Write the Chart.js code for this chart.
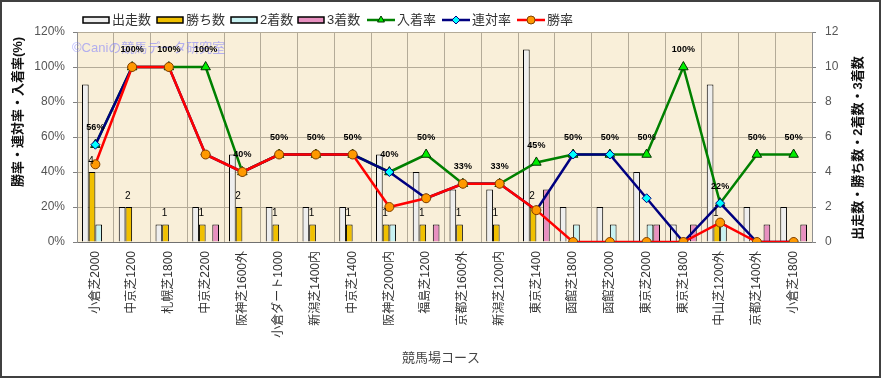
<!DOCTYPE html>
<html>
<head>
<meta charset="utf-8">
<script src="https://cdn.jsdelivr.net/npm/chart.js@4/dist/chart.umd.min.js"></script>
<style>
  html, body { margin: 0; padding: 0; background: #fff; }
  canvas { display: block; }
</style>
</head>
<body>
<canvas id="courseChart" width="881" height="378"></canvas>
<script>
// Courses (x axis)
const courses = ['小倉芝2000', '中京芝1200', '札幌芝1800', '中京芝2200', '阪神芝1600外', '小倉ダート1000',
  '新潟芝1400内', '中京芝1400', '阪神芝2000内', '福島芝1200', '京都芝1600外', '新潟芝1200内',
  '東京芝1400', '函館芝1800', '函館芝2000', '東京芝2000', '東京芝1800', '中山芝1200外', '京都芝1400外', '小倉芝1800'];

// Counts (right axis)
const starts  = [9, 2, 1, 2, 5, 2, 2, 2, 5, 4, 3, 3, 11, 2, 2, 4, 1, 9, 2, 2];
const wins    = [4, 2, 1, 1, 2, 1, 1, 1, 1, 1, 1, 1, 2, 0, 0, 0, 0, 1, 0, 0];
const seconds = [1, 0, 0, 0, 0, 0, 0, 0, 1, 0, 0, 0, 0, 1, 1, 1, 0, 1, 0, 0];
const thirds  = [0, 0, 0, 1, 0, 0, 0, 0, 0, 1, 0, 0, 3, 0, 0, 1, 1, 0, 1, 1];

// Rates in % (left axis)
const placeRate  = [55.6, 100, 100, 100, 40, 50, 50, 50, 40, 50, 33.3, 33.3, 45.45, 50, 50, 50, 100, 22.2, 50, 50];
const rentaiRate = [55.6, 100, 100, 50, 40, 50, 50, 50, 40, 25, 33.3, 33.3, 18.2, 50, 50, 25, 0, 22.2, 0, 0];
const winRate    = [44.4, 100, 100, 50, 40, 50, 50, 50, 20, 25, 33.3, 33.3, 18.2, 0, 0, 0, 0, 11.1, 0, 0];

const FONT = '"Liberation Sans", "Noto Sans CJK JP", sans-serif';
const gridColor = '#b4ab98';

// background, watermark, titles, legend, labels
const decorPlugin = {
  id: 'decor',
  beforeDraw(chart) {
    const { ctx, chartArea: a } = chart;
    ctx.save();
    ctx.fillStyle = '#ffffff';
    ctx.fillRect(0, 0, chart.width, chart.height);
    ctx.fillStyle = '#f9efd9';
    ctx.fillRect(a.left, a.top, a.right - a.left, a.bottom - a.top);
    ctx.restore();
  },
  beforeDatasetsDraw(chart) {
    const { ctx, chartArea: a } = chart;
    ctx.save();
    ctx.font = '13px ' + FONT;
    ctx.fillStyle = 'rgba(120, 120, 255, 0.55)';
    ctx.textBaseline = 'middle';
    ctx.fillText('©Caniの競馬データ研究室', a.left - 5, 48);
    ctx.restore();
  },
  afterDatasetsDraw(chart) {
    const ctx = chart.ctx;
    ctx.save();
    ctx.fillStyle = '#000';
    ctx.textAlign = 'center';
    ctx.textBaseline = 'middle';
    ctx.font = '10px ' + FONT;
    chart.getDatasetMeta(1).data.forEach((bar, i) => {
      if (wins[i] > 0) ctx.fillText(String(wins[i]), bar.x - 1, bar.y - 11);
    });
    ctx.font = 'bold 9px ' + FONT;
    chart.getDatasetMeta(4).data.forEach((pt, i) => {
      ctx.fillText(Math.round(placeRate[i]) + '%', pt.x, pt.y - 17);
    });
    ctx.restore();
  },
  afterDraw(chart) {
    const ctx = chart.ctx;
    ctx.save();

    // axis titles
    ctx.fillStyle = '#111';
    ctx.textAlign = 'center';
    ctx.textBaseline = 'middle';
    ctx.font = 'bold 13px ' + FONT;
    ctx.translate(18, 112);
    ctx.rotate(-Math.PI / 2);
    ctx.fillText('勝率・連対率・入着率(%)', 0, 0);
    ctx.setTransform(1, 0, 0, 1, 0, 0);
    ctx.translate(858, 148);
    ctx.rotate(-Math.PI / 2);
    ctx.fillText('出走数・勝ち数・2着数・3着数', 0, 0);
    ctx.setTransform(1, 0, 0, 1, 0, 0);
    ctx.font = '13px ' + FONT;
    ctx.fillStyle = '#444';
    ctx.fillText('競馬場コース', 441, 358);

    // legend
    ctx.textAlign = 'left';
    ctx.font = '13px ' + FONT;
    const ly = 20;
    const boxItems = [
      { x: 83, text: '出走数', color: '#eeeeee' },
      { x: 157, text: '勝ち数', color: '#f0c000' },
      { x: 231, text: '2着数', color: '#c8f2f2' },
      { x: 298, text: '3着数', color: '#e890c0' }
    ];
    boxItems.forEach(it => {
      ctx.fillStyle = it.color;
      ctx.fillRect(it.x, ly - 3, 26, 6);
      ctx.strokeStyle = '#000';
      ctx.lineWidth = 1.5;
      ctx.strokeRect(it.x, ly - 3, 26, 6);
      ctx.fillStyle = '#333';
      ctx.fillText(it.text, it.x + 29, ly);
    });
    const lineItems = [
      { x: 367, text: '入着率', ds: chart.data.datasets[4] },
      { x: 442, text: '連対率', ds: chart.data.datasets[5] },
      { x: 517, text: '勝率', ds: chart.data.datasets[6] }
    ];
    lineItems.forEach(it => {
      ctx.strokeStyle = it.ds.borderColor;
      ctx.lineWidth = 2.5;
      ctx.beginPath();
      ctx.moveTo(it.x, ly);
      ctx.lineTo(it.x + 28, ly);
      ctx.stroke();
      ctx.fillStyle = it.ds.pointBackgroundColor;
      ctx.strokeStyle = it.ds.pointBorderColor;
      ctx.lineWidth = 1;
      Chart.helpers.drawPoint(ctx, {
        pointStyle: it.ds.pointStyle, radius: 4, rotation: 0, borderWidth: 1
      }, it.x + 14, ly);
      ctx.fillStyle = '#333';
      ctx.fillText(it.text, it.x + 30, ly);
    });

    // outer frame
    ctx.strokeStyle = '#404040';
    ctx.lineWidth = 2;
    ctx.strokeRect(1, 1, chart.width - 2, chart.height - 2);
    ctx.restore();
  }
};

const barBase = { yAxisID: 'y1', borderColor: '#000', borderWidth: 1, barPercentage: 1, categoryPercentage: 0.727, order: 5 };
const lineBase = { type: 'line', yAxisID: 'y', borderWidth: 2.5, tension: 0, pointBorderWidth: 1 };

const ctx = document.getElementById('courseChart').getContext('2d');
new Chart(ctx, {
  type: 'bar',
  data: {
    labels: courses,
    datasets: [
      { ...barBase, label: '出走数', data: starts, backgroundColor: '#eeeeee' },
      { ...barBase, label: '勝ち数', data: wins, backgroundColor: '#f0c000' },
      { ...barBase, label: '2着数', data: seconds, backgroundColor: '#c8f2f2' },
      { ...barBase, label: '3着数', data: thirds, backgroundColor: '#e890c0' },
      { ...lineBase, label: '入着率', data: placeRate, borderColor: '#008000',
        pointStyle: 'triangle', pointRadius: 5.5, pointBackgroundColor: '#00ee00', pointBorderColor: '#003300', order: 3 },
      { ...lineBase, label: '連対率', data: rentaiRate, borderColor: '#000080',
        pointStyle: 'rectRot', pointRadius: 4.5, pointBackgroundColor: '#00ffff', pointBorderColor: '#000080', order: 2 },
      { ...lineBase, label: '勝率', data: winRate, borderColor: '#ff0000',
        pointStyle: 'circle', pointRadius: 4.5, pointBackgroundColor: '#ff9900', pointBorderColor: '#804000', order: 1 }
    ]
  },
  options: {
    responsive: false,
    animation: false,
    devicePixelRatio: 1,
    layout: { padding: { top: 32, left: 0, right: 0, bottom: 0 } },
    plugins: { legend: { display: false }, tooltip: { enabled: false } },
    scales: {
      x: {
        offset: true,
        grid: { offset: true, color: gridColor, borderDash: [2, 2], drawTicks: false },
        border: { color: '#707070' },
        ticks: { autoSkip: false, maxRotation: 90, minRotation: 90, padding: 9, color: '#333', font: { family: FONT, size: 12 } },
        afterFit(s) { s.height = 136; }
      },
      y: {
        position: 'left',
        min: 0, max: 120,
        grid: { color: gridColor, borderDash: [2, 2], tickLength: 4, tickColor: '#808080' },
        border: { color: '#909090' },
        ticks: { stepSize: 20, padding: 8, color: '#555', font: { family: FONT, size: 12 }, callback: v => v + '%' },
        afterFit(s) { s.width = 77; }
      },
      y1: {
        position: 'right',
        min: 0, max: 12,
        grid: { drawOnChartArea: false, tickLength: 4, tickColor: '#808080' },
        border: { color: '#909090' },
        ticks: { stepSize: 2, padding: 9, color: '#555', font: { family: FONT, size: 12 } },
        afterFit(s) { s.width = 69; }
      }
    }
  },
  plugins: [decorPlugin]
});
</script>
</body>
</html>
